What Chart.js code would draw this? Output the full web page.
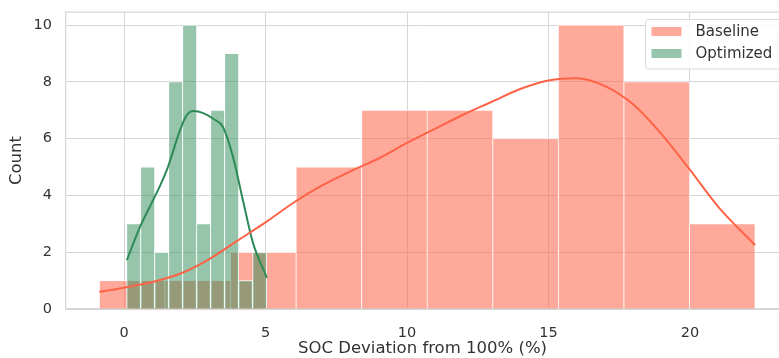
<!DOCTYPE html>
<html>
<head>
<meta charset="utf-8">
<script src="https://cdn.jsdelivr.net/npm/chart.js@4"></script>
<style>
  html, body { margin: 0; padding: 0; background: #fff; }
</style>
</head>
<body>
<canvas id="myChart" width="779" height="358"></canvas>
<script>
// histogram bins
const baselineEdges = [-0.87, 1.447, 3.764, 6.081, 8.398, 10.715, 13.032, 15.349, 17.666, 19.983, 22.3];
const baselineCounts = [1, 1, 2, 5, 7, 7, 6, 10, 8, 3];

const optimizedEdges = [0.095, 0.59, 1.084, 1.579, 2.073, 2.568, 3.062, 3.557, 4.051, 4.546, 5.04];
const optimizedCounts = [3, 5, 2, 8, 10, 3, 7, 9, 1, 2];

// kde curves (in count units)
const baselineKdeX = [-0.87, 0, 1, 2, 3, 4, 5, 6, 7, 8, 9, 10, 11, 12, 13, 14, 15, 16, 17, 18, 19, 20, 21, 22.3];
const baselineKdeY = [0.6, 0.75, 0.95, 1.25, 1.75, 2.4, 3.05, 3.75, 4.35, 4.85, 5.3, 5.85, 6.35, 6.85, 7.3, 7.75, 8.05, 8.13, 7.85, 7.2, 6.15, 4.9, 3.6, 2.25];

const optimizedKdeX = [0.1, 0.57, 1.03, 1.3, 1.55, 1.98, 2.2, 2.45, 2.8, 3.15, 3.5, 3.85, 4.2, 4.56, 5.05];
const optimizedKdeY = [1.72, 2.9, 3.84, 4.4, 5.0, 6.3, 6.8, 6.97, 6.9, 6.7, 6.4, 5.36, 3.84, 2.32, 1.1];

const xTicks = [0, 5, 10, 15, 20];
const yTicks = [0, 2, 4, 6, 8, 10];

const baselineFill = "rgba(255, 99, 71, 0.55)";
const optimizedFill = "rgba(46, 139, 87, 0.5)";
const gridColor = "#d6d6d6";
const textColor = "#333333";

Chart.defaults.font.family = "'DejaVu Sans', sans-serif";
Chart.defaults.color = textColor;

const centers = (edges) => edges.slice(0, -1).map((e, i) => (e + edges[i + 1]) / 2);
const toPoints = (xs, ys) => xs.map((x, i) => ({ x: x, y: ys[i] }));

// top edge of the axes box
const frameTop = {
  id: "frameTop",
  afterDatasetsDraw(chart) {
    const { ctx, chartArea } = chart;
    ctx.save();
    ctx.strokeStyle = gridColor;
    ctx.lineWidth = 1.25;
    ctx.beginPath();
    ctx.moveTo(chartArea.left, chartArea.top);
    ctx.lineTo(chartArea.right, chartArea.top);
    ctx.stroke();
    ctx.restore();
  },
};

// matplotlib style legend inside the axes, upper right
const legendBox = {
  id: "legendBox",
  afterDraw(chart) {
    const { ctx, chartArea } = chart;
    const items = [
      ["Baseline", baselineFill],
      ["Optimized", optimizedFill],
    ];
    const x0 = chartArea.right - 133.5;
    const y0 = chartArea.top + 7.5;
    ctx.save();
    ctx.fillStyle = "rgba(255, 255, 255, 0.85)";
    ctx.strokeStyle = "#d9d9d9";
    ctx.lineWidth = 1;
    ctx.beginPath();
    ctx.roundRect(x0, y0, 145, 49.5, 3);
    ctx.fill();
    ctx.stroke();
    ctx.font = "15px 'DejaVu Sans', sans-serif";
    ctx.textBaseline = "middle";
    items.forEach(([label, color], i) => {
      const y = y0 + 12 + i * 22;
      ctx.fillStyle = color;
      ctx.fillRect(x0 + 6, y - 4.5, 30, 9);
      ctx.fillStyle = textColor;
      ctx.fillText(label, x0 + 50, y + 0.5);
    });
    ctx.restore();
  },
};

const barEdge = { top: 0.75, left: 0.75, right: 0.75, bottom: 0 };

const data = {
  datasets: [
    {
      type: "line",
      label: "Baseline KDE",
      data: toPoints(baselineKdeX, baselineKdeY),
      borderColor: "#ff6347",
      borderWidth: 2,
      pointRadius: 0,
      cubicInterpolationMode: "monotone",
      xAxisID: "x",
      order: 0,
    },
    {
      type: "line",
      label: "Optimized KDE",
      data: toPoints(optimizedKdeX, optimizedKdeY),
      borderColor: "#2e8b57",
      borderWidth: 2,
      pointRadius: 0,
      cubicInterpolationMode: "monotone",
      xAxisID: "x",
      order: 0,
    },
    {
      label: "Optimized",
      data: toPoints(centers(optimizedEdges), optimizedCounts),
      backgroundColor: optimizedFill,
      borderColor: "#ffffff",
      borderWidth: barEdge,
      barPercentage: 1,
      categoryPercentage: 1,
      grouped: false,
      xAxisID: "x2",
      order: 1,
    },
    {
      label: "Baseline",
      data: toPoints(centers(baselineEdges), baselineCounts),
      backgroundColor: baselineFill,
      borderColor: "#ffffff",
      borderWidth: barEdge,
      barPercentage: 1,
      categoryPercentage: 1,
      grouped: false,
      xAxisID: "x",
      order: 2,
    },
  ],
};

const config = {
  type: "bar",
  data: data,
  options: {
    responsive: false,
    animation: false,
    devicePixelRatio: 1,
    layout: { padding: { left: 3, right: 0, top: 12, bottom: 0 } },
    plugins: {
      legend: { display: false },
      tooltip: { enabled: false },
    },
    scales: {
      x: {
        type: "linear",
        offset: false,
        min: -2.05,
        max: 23.145,
        afterBuildTicks: (s) => { s.ticks = xTicks.map((v) => ({ value: v })); },
        afterFit: (s) => { s.height = 49; s.paddingLeft = 0; s.paddingRight = 0; },
        grid: { color: gridColor, drawTicks: false, offset: false },
        border: { color: gridColor, width: 1.25 },
        ticks: { font: { size: 14.5 }, padding: 16, color: textColor },
        title: {
          display: true,
          text: "SOC Deviation from 100% (%)",
          font: { size: 16.5 },
          color: textColor,
          padding: { top: 0, bottom: -1 },
        },
      },
      x2: {
        type: "linear",
        display: false,
        offset: false,
        min: -2.05,
        max: 23.145,
        afterBuildTicks: (s) => { s.ticks = xTicks.map((v) => ({ value: v })); },
      },
      y: {
        min: 0,
        max: 10.46,
        afterBuildTicks: (s) => { s.ticks = yTicks.map((v) => ({ value: v })); },
        afterFit: (s) => { s.width = 63; s.paddingTop = 0; s.paddingBottom = 0; },
        grid: { color: gridColor, drawTicks: false },
        border: { color: gridColor, width: 1.25 },
        ticks: { font: { size: 14.5 }, padding: 14, color: textColor },
        title: {
          display: true,
          text: "Count",
          font: { size: 16.5 },
          color: textColor,
          padding: { top: 4, bottom: 4 },
        },
      },
    },
  },
  plugins: [frameTop, legendBox],
};

let myChart = new Chart(document.getElementById("myChart"), config);
</script>
</body>
</html>
